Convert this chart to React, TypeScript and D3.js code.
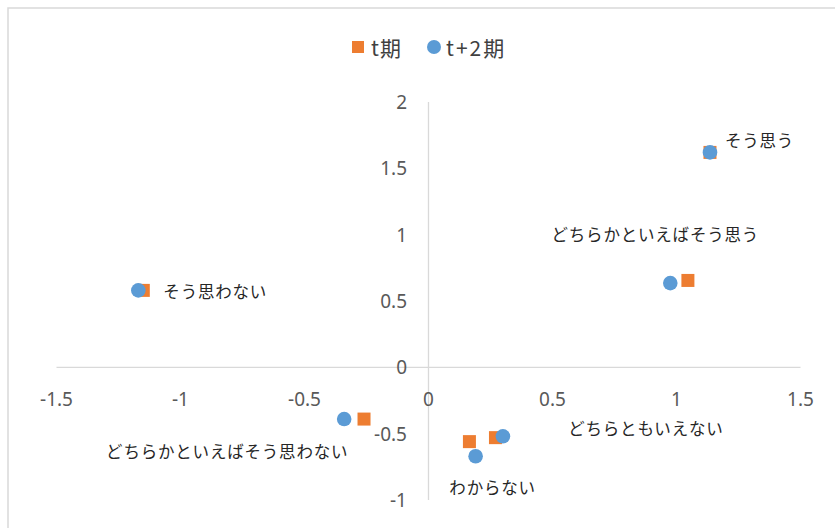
import React from "react";
import * as d3 from "d3";

// categories (answer choices)
const categories = [
  "そう思う",
  "どちらかといえばそう思う",
  "そう思わない",
  "どちらかといえばそう思わない",
  "どちらともいえない",
  "わからない",
];
// t期 (square)
const tX = [1.135, 1.046, -1.15, -0.26, 0.27, 0.165];
const tY = [1.62, 0.655, 0.58, -0.39, -0.53, -0.56];
// t+2期 (circle)
const t2X = [1.135, 0.975, -1.17, -0.34, 0.3, 0.19];
const t2Y = [1.62, 0.635, 0.58, -0.39, -0.52, -0.67];

const xTicks = [-1.5, -1, -0.5, 0, 0.5, 1, 1.5];
const yTicks = [-1, -0.5, 0, 0.5, 1, 1.5, 2];

// label placement, pixel offset from the t+2 point, [dx, dy, anchor]
const labelOffsets: [number, number, string][] = [
  [15, -12, "start"],
  [-15, -49, "middle"],
  [25, 1, "start"],
  [-117, 32, "middle"],
  [143, -8, "middle"],
  [17, 31, "middle"],
];

const W = 835;
const H = 528;
const orange = "#ED7D31";
const blue = "#5B9BD5";
const axisColor = "#d9d9d9";
const tickFont = "'Noto Sans', 'DejaVu Sans', sans-serif";
const jpFont = "'Noto Sans CJK JP', sans-serif";

const App = () => {
  const x = d3.scaleLinear().domain([-1.5, 1.5]).range([56.5, 800.5]);
  const y = d3.scaleLinear().domain([-1, 2]).range([500, 102]);
  const fmt = (v: number) => (v < 0 ? "-" : "") + String(Math.abs(v));
  const sq = 13;

  return (
    <div style={{ position: "absolute", left: 0, top: 0, width: W, height: H, background: "#fff" }}>
      <svg width={W} height={H}>
        <rect x={8} y={8} width={W + 20} height={H + 20} fill="#fff" stroke={axisColor} strokeWidth={1.5} />

        {/* legend */}
        <g fontFamily={jpFont} fontSize={21} fill="#404040">
          <rect x={352} y={41} width={12} height={12} fill={orange} />
          <text x={371} y={47} dominantBaseline="central" letterSpacing={1}>t期</text>
          <circle cx={434} cy={47} r={7} fill={blue} />
          <text x={446} y={47} dominantBaseline="central" letterSpacing={2}>t+2期</text>
        </g>

        {/* axes */}
        <line x1={x(-1.5)} x2={x(1.5)} y1={y(0)} y2={y(0)} stroke={axisColor} strokeWidth={1.3} />
        <line x1={x(0)} x2={x(0)} y1={y(2)} y2={y(-1)} stroke={axisColor} strokeWidth={1.3} />

        <g fontFamily={tickFont} fontSize={19} fill="#595959">
          {yTicks.map((v) => (
            <text key={"y" + v} x={407} y={y(v)} textAnchor="end" dominantBaseline="central">
              {fmt(v)}
            </text>
          ))}
          {xTicks.map((v) => (
            <text key={"x" + v} x={x(v)} y={y(0) + 32} textAnchor="middle" dominantBaseline="central">
              {fmt(v)}
            </text>
          ))}
        </g>

        {/* t期 squares */}
        {tX.map((v, i) => (
          <rect key={"t" + i} x={x(v) - sq / 2} y={y(tY[i]) - sq / 2} width={sq} height={sq} fill={orange} />
        ))}
        {/* t+2期 circles */}
        {t2X.map((v, i) => (
          <circle key={"c" + i} cx={x(v)} cy={y(t2Y[i])} r={7.3} fill={blue} />
        ))}

        {/* data labels */}
        <g fontFamily={jpFont} fontSize={16.5} fill="#262626">
          {categories.map((c, i) => {
            const [dx, dy, anchor] = labelOffsets[i];
            return (
              <text
                key={c}
                x={x(t2X[i]) + dx}
                y={y(t2Y[i]) + dy}
                textAnchor={anchor as any}
                dominantBaseline="central"
                letterSpacing={0.8}
              >
                {c}
              </text>
            );
          })}
        </g>
      </svg>
    </div>
  );
};

export default App;
